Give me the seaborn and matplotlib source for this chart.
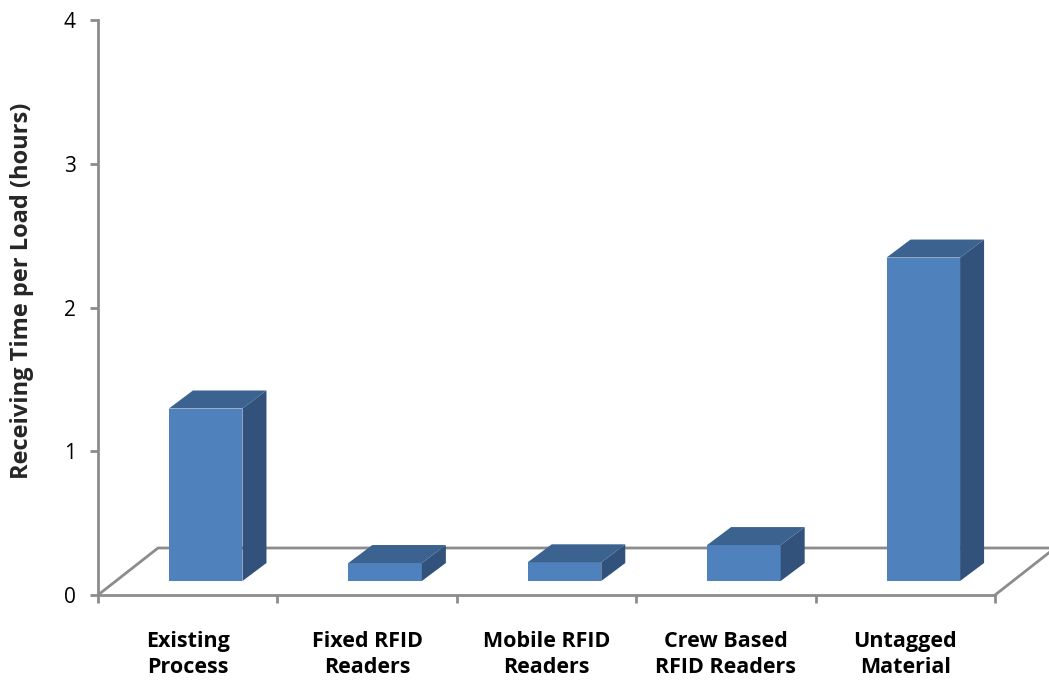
import numpy as np
import matplotlib
matplotlib.use("Agg")
import matplotlib.pyplot as plt
import pandas as pd
import seaborn as sns
from matplotlib.patches import Polygon
from matplotlib.lines import Line2D

# chart data
categories = ["Existing\nProcess", "Fixed RFID\nReaders", "Mobile RFID\nReaders",
              "Crew Based\nRFID Readers", "Untagged\nMaterial"]
hours = [1.2, 0.125, 0.13, 0.25, 2.25]
y_ticks = [0, 1, 2, 3, 4]
y_label = "Receiving Time per Load (hours)"

front_col = "#4F81BD"
top_col = "#3C6390"
side_col = "#32527B"
axis_col = "#8C8C8C"

sns.set_theme(style="white")
plt.rcParams["font.family"] = ["Open Sans", "DejaVu Sans"]

W, H = 1049, 681
fig = plt.figure(figsize=(W / 100, H / 100), dpi=100)
# axes box = front plane of the floor
ax = fig.add_axes([98 / W, 86 / H, 897 / W, 575 / H])

df = pd.DataFrame({"cat": categories, "hours": hours})
sns.barplot(data=df, x="cat", y="hours", color=front_col, width=0.41,
            saturation=1, ax=ax, zorder=3)
ax.set_xlim(-0.5, len(categories) - 0.5)
ax.set_ylim(0, 4)

# pixel -> data conversions for the oblique depth
sx = 897 / len(categories)   # px per category
sy = 575 / 4.0               # px per hour
floor_dx, floor_dy = 60 / sx, 47 / sy
bar_ox, bar_oy = 18 / sx, 14 / sy
bar_dx, bar_dy = 24 / sx, 18 / sy

# floor outline (back part, behind the bars)
n = len(categories)
fx = [-0.5, -0.5 + floor_dx, n - 0.5 + floor_dx, n - 0.5]
fy = [0, floor_dy, floor_dy, 0]
ax.add_line(Line2D(fx, fy, color=axis_col, lw=2, clip_on=False, zorder=1))

for p in list(ax.patches):
    p.set_edgecolor("none")
    x0 = p.get_x() + bar_ox
    x1 = x0 + p.get_width()
    y0 = bar_oy
    y1 = y0 + p.get_height()
    p.set_x(x0)
    p.set_y(y0)
    side = Polygon([(x1, y0), (x1 + bar_dx, y0 + bar_dy), (x1 + bar_dx, y1 + bar_dy), (x1, y1)],
                   closed=True, fc=side_col, ec="none", zorder=3, clip_on=False)
    top = Polygon([(x0, y1), (x0 + bar_dx, y1 + bar_dy), (x1 + bar_dx, y1 + bar_dy), (x1, y1)],
                  closed=True, fc=top_col, ec="none", zorder=3, clip_on=False)
    ax.add_patch(side)
    ax.add_patch(top)

for s in ["top", "right"]:
    ax.spines[s].set_visible(False)
for s in ["left", "bottom"]:
    ax.spines[s].set_color(axis_col)
    ax.spines[s].set_linewidth(2)
    ax.spines[s].set_zorder(4)

ax.set_yticks(y_ticks)
ax.set_yticklabels([str(t) for t in y_ticks], fontsize=15, color="black")
ax.tick_params(axis="y", which="major", left=True, length=6, width=2, color=axis_col, pad=10)

ax.set_xticks(np.arange(n))
ax.set_xticklabels(categories, fontsize=15.5, fontweight="bold", color="black", linespacing=1.3)
ax.tick_params(axis="x", which="major", bottom=False, pad=20)
ax.set_xticks(np.arange(n + 1) - 0.5, minor=True)
ax.tick_params(axis="x", which="minor", bottom=True, length=6, width=2, color=axis_col)

ax.set_xlabel("")
ax.set_ylabel(y_label, fontsize=17, fontweight="bold")
ax.yaxis.set_label_coords(-0.071, 0.529)
ax.patch.set_alpha(0)

fig.savefig("out.png", dpi=100)
